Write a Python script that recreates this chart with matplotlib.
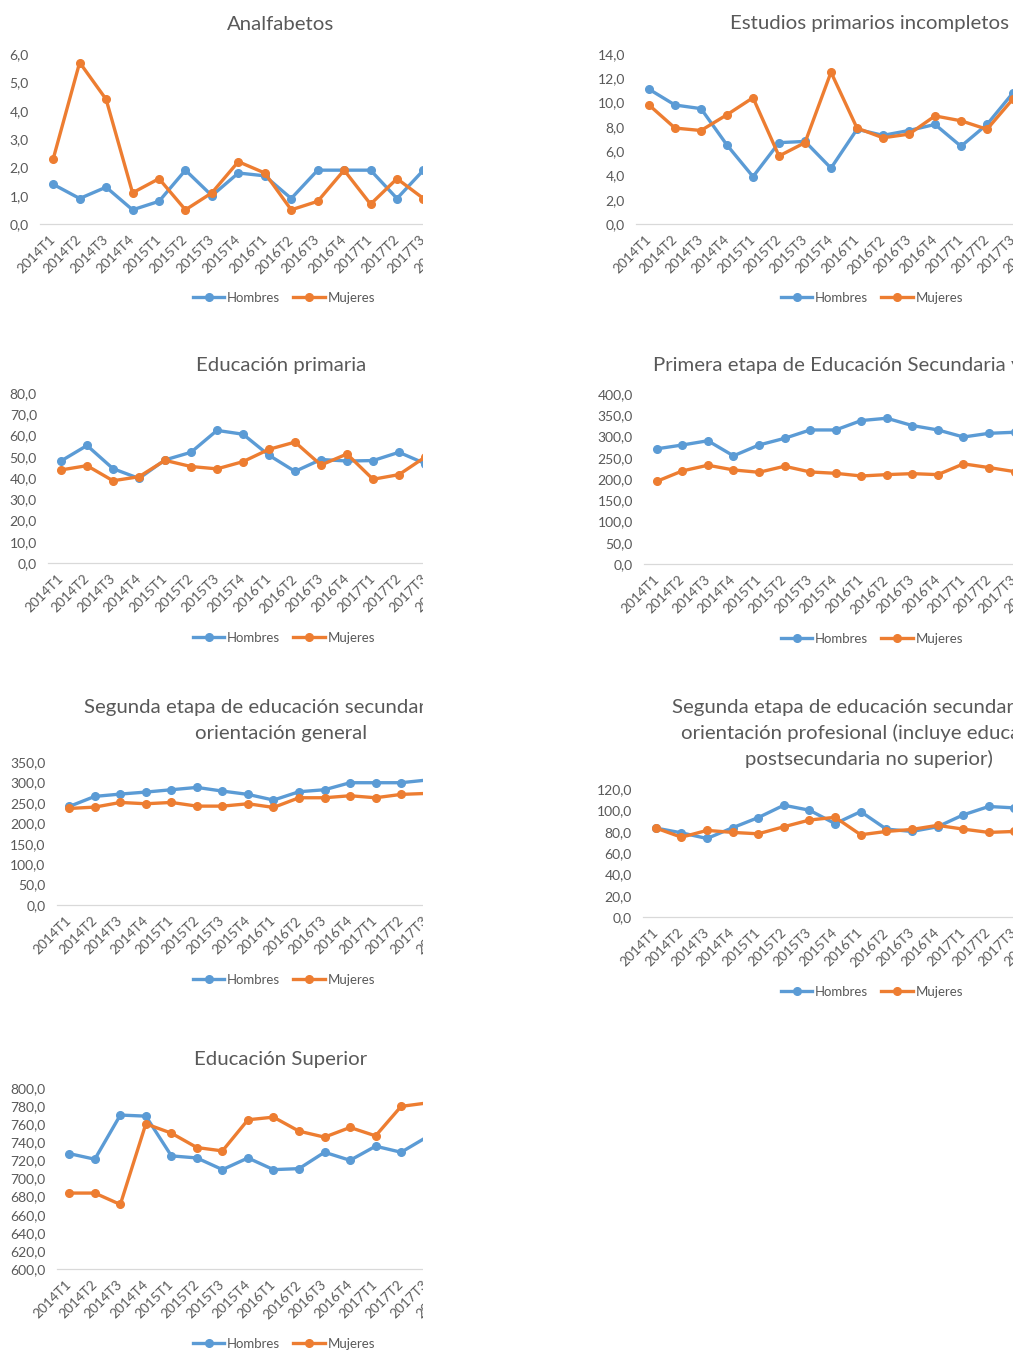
import matplotlib
matplotlib.use('Agg')
import matplotlib.pyplot as plt
from matplotlib.lines import Line2D
from matplotlib.patches import Rectangle
from matplotlib.ticker import FuncFormatter, MultipleLocator

plt.rcParams['font.family'] = ['Lato', 'DejaVu Sans']

# quarters shown on every chart (the last one is only a clipped fragment)
quarters = ['2014T1', '2014T2', '2014T3', '2014T4', '2015T1', '2015T2', '2015T3', '2015T4',
            '2016T1', '2016T2', '2016T3', '2016T4', '2017T1', '2017T2', '2017T3', '2017T4']

analf_h = [1.4, 0.9, 1.3, 0.5, 0.8, 1.9, 1.0, 1.8, 1.7, 0.9, 1.9, 1.9, 1.9, 0.9, 1.9]
analf_m = [2.3, 5.7, 4.4, 1.1, 1.6, 0.5, 1.1, 2.2, 1.8, 0.5, 0.8, 1.9, 0.7, 1.6, 0.9]

prim_inc_h = [11.1, 9.8, 9.5, 6.5, 3.9, 6.7, 6.8, 4.6, 7.8, 7.3, 7.7, 8.2, 6.4, 8.2, 10.8]
prim_inc_m = [9.8, 7.9, 7.7, 9.0, 10.4, 5.6, 6.7, 12.5, 7.9, 7.1, 7.4, 8.9, 8.5, 7.8, 10.3]

prim_h = [48.0, 55.3, 44.4, 39.8, 48.5, 52.1, 62.4, 60.6, 50.7, 43.1, 48.7, 48.0, 48.2, 52.1, 46.8]
prim_m = [43.8, 45.8, 38.7, 40.6, 48.3, 45.4, 44.3, 47.7, 53.5, 56.9, 46.1, 51.3, 39.4, 41.6, 49.8]

sec1_h = [271.0, 280.0, 290.0, 254.5, 280.0, 295.7, 315.4, 315.4, 337.5, 343.0, 325.7, 315.4, 298.8, 307.5, 310.0]
sec1_m = [194.5, 219.0, 232.4, 221.3, 215.8, 230.0, 216.6, 213.4, 207.1, 210.3, 212.6, 210.3, 235.6, 226.9, 217.4]

sec2g_h = [241.2, 265.8, 271.5, 276.4, 282.1, 287.8, 278.8, 270.7, 256.8, 277.2, 282.1, 299.3, 299.3, 299.3, 305.8]
sec2g_m = [236.3, 239.6, 251.0, 247.8, 251.0, 242.0, 242.0, 247.8, 238.8, 262.5, 262.5, 267.4, 262.5, 270.7, 273.1]

sec2p_h = [83.4, 78.9, 73.6, 83.7, 93.2, 104.8, 100.1, 87.5, 98.8, 82.4, 80.2, 84.6, 95.7, 103.6, 102.3]
sec2p_m = [83.4, 74.8, 81.2, 79.3, 78.0, 84.6, 90.9, 93.5, 77.1, 80.2, 82.1, 85.9, 82.4, 79.3, 80.2]

sup_h = [727.5, 721.3, 770.1, 768.9, 725.0, 722.7, 709.8, 722.7, 709.8, 710.9, 729.0, 720.1, 735.7, 729.0, 745.7]
sup_m = [683.9, 683.9, 671.3, 760.4, 750.1, 734.2, 730.5, 764.9, 767.8, 752.3, 745.7, 756.4, 747.1, 779.7, 783.4]

titles = [
    ['Analfabetos'],
    ['Estudios primarios incompletos'],
    ['Educación primaria'],
    ['Primera etapa de Educación Secundaria y similar'],
    ['Segunda etapa de educación secundaria con', 'orientación general'],
    ['Segunda etapa de educación secundaria con', 'orientación profesional (incluye educación',
     'postsecundaria no superior)'],
    ['Educación Superior'],
]
series = [(analf_h, analf_m), (prim_inc_h, prim_inc_m), (prim_h, prim_m), (sec1_h, sec1_m),
          (sec2g_h, sec2g_m), (sec2p_h, sec2p_m), (sup_h, sup_m)]
y_ranges = [(0, 6, 1), (0, 14, 2), (0, 80, 10), (0, 400, 50), (0, 350, 50), (0, 120, 20), (600, 800, 20)]

# layout in pixels: chart left, plot left, plot top, plot bottom, title y, legend y
layout = [
    (0, 40, 54, 224, 24, 298),
    (588, 636, 54, 224, 24, 298),
    (0, 48, 393, 563, 365, 638),
    (588, 644, 394, 564, 366, 639),
    (0, 56.5, 762, 905, 707, 980),
    (588, 643, 789, 917, 707, 992),
    (0, 56.5, 1088, 1269, 1059, 1344),
]

W, H = 1013, 1350
BLUE = '#5B9BD5'
ORANGE = '#ED7D31'
GREY = '#595959'

fig = plt.figure(figsize=(W / 100, H / 100), dpi=100)
fmt = FuncFormatter(lambda v, p: f'{v:.1f}'.replace('.', ','))

for (hv, mv), ttl, (y0, y1, step), (cl, pl, pt, pb, ty, ly) in zip(series, titles, y_ranges, layout):
    pr = cl + 516
    ax = fig.add_axes([pl / W, 1 - pb / H, (pr - pl) / W, (pb - pt) / H])
    ax.plot(range(len(hv)), hv, color=BLUE, lw=2.4, marker='o', ms=5.5, clip_on=False)
    ax.plot(range(len(mv)), mv, color=ORANGE, lw=2.4, marker='o', ms=5.5, clip_on=False)
    ax.set_xlim(-0.5, 17.5)
    ax.set_ylim(y0, y1)
    ax.yaxis.set_major_locator(MultipleLocator(step))
    ax.yaxis.set_major_formatter(fmt)
    ax.set_xticks(range(len(quarters)))
    ax.set_xticklabels(quarters, rotation=45, ha='right', va='center', rotation_mode='anchor')
    ax.tick_params(axis='x', length=0, pad=10, labelsize=9.8, labelcolor=GREY)
    ax.tick_params(axis='y', length=0, pad=8, labelsize=10, labelcolor=GREY)
    for s in ['top', 'left', 'right']:
        ax.spines[s].set_visible(False)
    ax.spines['bottom'].set_color('#D9D9D9')
    ax.spines['bottom'].set_linewidth(0.9)

    cx = cl + 281
    for i, line in enumerate(ttl):
        fig.text(cx / W, 1 - (ty + i * 26) / H, line, ha='center', va='center',
                 fontsize=14.7, color=GREY)

    handles = [Line2D([], [], color=BLUE, lw=2.4, marker='o', ms=5.5),
               Line2D([], [], color=ORANGE, lw=2.4, marker='o', ms=5.5)]
    ax.legend(handles, ['Hombres', 'Mujeres'], loc='center', ncol=2, frameon=False,
              bbox_to_anchor=(cx / W + 0.003, 1 - ly / H), bbox_transform=fig.transFigure,
              fontsize=9.5, labelcolor=GREY, handlelength=2.4, handletextpad=0.2,
              columnspacing=1.0, borderpad=0)

# the left charts are cut off on their right side
fig.add_artist(Rectangle((423 / W, 0), (588 - 423) / W, 1, transform=fig.transFigure,
                         facecolor='white', edgecolor='none', zorder=5))

fig.savefig('out.png', dpi=100)
